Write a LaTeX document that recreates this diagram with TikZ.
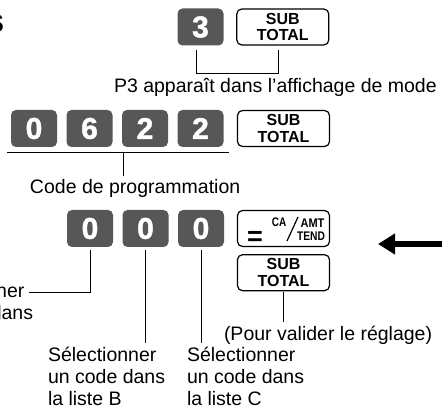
\documentclass[tikz,border=0pt]{standalone}
\usepackage{fontspec}
\setmainfont{Liberation Sans}
\newfontfamily\keyfont[BoldFeatures={FakeBold=1.5}]{Liberation Sans}
\usepackage{graphicx}
\usetikzlibrary{positioning, arrows.meta}

\begin{document}
\begin{tikzpicture}[x=1pt, y=-1pt]
        % ================= styles =================
        \tikzset{
            % touche chiffre : gris fonce, chiffre blanc
            numkey/.style={rounded corners=5pt, fill=black!66, text=white, minimum width=46pt, minimum height=37pt, inner sep=0pt, font=\keyfont\fontsize{30}{30}\selectfont\bfseries},
            % touche de fonction : fond blanc, bord noir
            fnkey/.style={draw=black, line width=1.2pt, rounded corners=5pt, fill=white, minimum width=92pt, minimum height=36pt, inner sep=0pt, align=center, font=\fontsize{16}{16.5}\selectfont\bfseries},
            % petits textes dans la touche CA/AMT
            keytxt/.style={inner sep=0pt, font=\fontsize{12.5}{13}\selectfont\bfseries},
            % legendes
            lbl/.style={inner sep=0pt, outer xsep=0pt, outer ysep=4pt, align=left, font=\fontsize{19.5}{22}\selectfont},
            % traits de renvoi
            conn/.style={line width=1pt, black}
        }
        \useasboundingbox (0,0) rectangle (442,414);

        % ================= 1. touches =================
        \node[inner sep=0pt, anchor=base east, font=\fontsize{34}{34}\selectfont\bfseries] (head) at (4.5,33) {s};

        % --- ligne 1 ---
        \node[numkey] (k3) at (200.5,27) {3};
        \node[fnkey, right=12.5pt of k3] (sub1) {SUB\\TOTAL};

        % --- ligne 2 : code 0622 ---
        \foreach \d [count=\i] in {0,6,2,2}
            \node[numkey] (c\i) at ({34+55.5*(\i-1)},128.5) {\d};
        \node[fnkey] (sub2) at (283.5,128.5) {SUB\\TOTAL};

        % --- ligne 3 : 000 ---
        \foreach \i in {1,2,3}
            \node[numkey] (s\i) at ({90+55.5*(\i-1)},228.5) {0};
        \node[fnkey] (ca) at (283.5,228.5) {};
        \node[fnkey, below=7pt of ca] (sub3) {SUB\\TOTAL};

        % contenu de la touche CA/AMT
        \node[keytxt, font=\fontsize{27}{27}\selectfont\bfseries] (ca-eq) at (255,238.5) {=};
        \node[keytxt] (ca-ca) at (279,222.5) {\scalebox{0.8}[1]{CA}};
        \node[keytxt] (ca-amt) at (312.5,223) {\scalebox{0.88}[1]{AMT}};
        \node[keytxt] (ca-tend) at (311,236.5) {\scalebox{0.82}[1]{TEND}};
        \draw[line width=1.2pt] (287,241) -- (298,217);

        % ================= 2. legendes =================
        \node[lbl, anchor=base west] (p3) at (114,93) {P3 apparaît dans l’affichage de mode};
        \node[lbl, anchor=base west] (prog) at (30,194) {Code de programmation};
        \node[lbl, anchor=base west] (valid) at (224,340) {(Pour valider le réglage)};
        \node[lbl, anchor=north west] (selA) at (-84,279) {Sélectionner\\un code dans};
        \node[lbl, anchor=north west] (selB) at (48,343) {Sélectionner\\un code dans\\la liste B};
        \node[lbl, anchor=north west] (selC) at (187,343) {Sélectionner\\un code dans\\la liste C};

        % ================= 3. traits de renvoi =================
        \draw[conn] ([xshift=-4pt,yshift=-4pt]k3.south) -- ++(0,24) -| ([xshift=-4pt,yshift=-4pt]sub1.south);

        \coordinate (ul-l) at ([xshift=-4pt,yshift=-5pt]c1.south west);
        \coordinate (ul-r) at ([xshift=5pt,yshift=-5pt]c4.south east);
        \coordinate (ul-m) at (123,152);
        \draw[conn] (ul-l) -- (ul-r);
        \draw[conn] (ul-m) -- (ul-m |- prog.north);

        \coordinate (selA-end) at (29,293);
        \draw[conn] ([yshift=-3pt]s1.south) |- (selA-end);
        \draw[conn] ([yshift=-3pt]s2.south) -- (s2.south |- selB.north);
        \draw[conn] ([yshift=-3pt]s3.south) -- (s3.south |- selC.north);
        \draw[conn] ([yshift=-1pt]sub3.south) -- (sub3.south |- valid.north);

        % ================= 4. fleche =================
        \coordinate (arr-tail) at (446,244);
        \coordinate (arr-tip) at (378,244);
        \draw[line width=6.5pt, -{Triangle[length=17pt, width=20pt]}] (arr-tail) -- (arr-tip);

    \end{tikzpicture}
\end{document}
